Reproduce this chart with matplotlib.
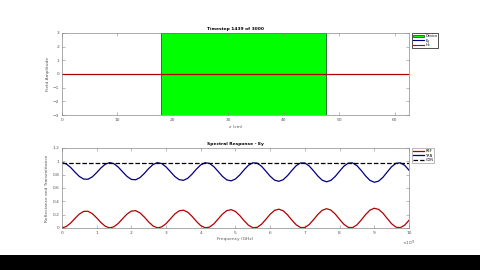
import numpy as np
import matplotlib
matplotlib.use("Agg")
import matplotlib.pyplot as plt
from matplotlib.patches import Rectangle

# top panel: field snapshot
z_pos = [0, 62.6]
ey_field = [0.0, 0.0]
hx_field = [0.0, 0.0]
device_start = 17.8
device_end = 47.7

# bottom panel: spectral response (frequency in units of 1e9)
freq = np.linspace(0, 10, 81)
ref = [0.000, 0.020, 0.072, 0.142, 0.207, 0.247, 0.250, 0.214, 0.151, 0.080,
       0.024, 0.000, 0.017, 0.068, 0.139, 0.207, 0.252, 0.258, 0.225, 0.162,
       0.089, 0.029, 0.001, 0.014, 0.064, 0.135, 0.207, 0.255, 0.266, 0.236,
       0.173, 0.098, 0.034, 0.002, 0.011, 0.059, 0.132, 0.206, 0.259, 0.274,
       0.246, 0.185, 0.108, 0.040, 0.003, 0.008, 0.054, 0.127, 0.204, 0.262,
       0.281, 0.257, 0.196, 0.118, 0.047, 0.005, 0.006, 0.050, 0.123, 0.202,
       0.264, 0.288, 0.267, 0.208, 0.129, 0.054, 0.008, 0.004, 0.045, 0.118,
       0.200, 0.266, 0.295, 0.278, 0.221, 0.140, 0.062, 0.011, 0.003, 0.040,
       0.113]
trn = [0.980, 0.960, 0.908, 0.838, 0.773, 0.733, 0.730, 0.766, 0.829, 0.900,
       0.956, 0.980, 0.963, 0.912, 0.841, 0.773, 0.728, 0.722, 0.755, 0.818,
       0.891, 0.951, 0.979, 0.966, 0.916, 0.845, 0.773, 0.725, 0.714, 0.744,
       0.807, 0.882, 0.946, 0.978, 0.969, 0.921, 0.848, 0.774, 0.721, 0.706,
       0.734, 0.795, 0.872, 0.940, 0.977, 0.972, 0.926, 0.853, 0.776, 0.718,
       0.699, 0.723, 0.784, 0.862, 0.933, 0.975, 0.974, 0.930, 0.857, 0.778,
       0.716, 0.692, 0.713, 0.772, 0.851, 0.926, 0.972, 0.976, 0.935, 0.862,
       0.780, 0.714, 0.685, 0.702, 0.759, 0.840, 0.918, 0.969, 0.977, 0.940,
       0.867]
con_freq = [0, 10]
con = [0.98, 0.98]

fs = 3.2
gray = '#555555'
red = '#b00000'
blue = '#000080'


def style_axes(ax):
    for s in ax.spines.values():
        s.set_color('#888888')
        s.set_linewidth(0.5)
    ax.tick_params(direction='in', length=2, width=0.4, colors='#888888',
                   labelsize=fs, labelcolor=gray, top=True, right=True, pad=2)


fig = plt.figure(figsize=(4.8, 2.7), dpi=100)

# top axes
ax1 = fig.add_axes([0.129, 0.574, 0.723, 0.304])
ax1.add_patch(Rectangle((device_start, -3), device_end - device_start, 6,
                        facecolor='#00ff00', edgecolor='black', linewidth=0.4,
                        label='Device'))
ax1.plot(z_pos, ey_field, color=blue, linewidth=0.8, label='Ey')
ax1.plot(z_pos, hx_field, color=red, linewidth=0.8, label='Hx')
ax1.set_xlim(0, 62.6)
ax1.set_ylim(-3, 3)
ax1.set_xticks([0, 10, 20, 30, 40, 50, 60])
ax1.set_yticks([-3, -2, -1, 0, 1, 2, 3])
ax1.set_title('Timestep 1439 of 3000', fontsize=fs, fontweight='bold', pad=2)
ax1.set_xlabel('z (cm)', fontsize=fs, color=gray, labelpad=2)
ax1.set_ylabel('Field Amplitude', fontsize=fs, color=gray, labelpad=2)
style_axes(ax1)
leg1 = ax1.legend(loc='upper left', bbox_to_anchor=(1.01, 1.0), fontsize=2.5,
                  frameon=True, handlelength=3, borderpad=0.3, labelspacing=0.2,
                  handletextpad=0.4, borderaxespad=0)
leg1.get_frame().set_edgecolor('black')
leg1.get_frame().set_linewidth(0.6)
leg1.get_frame().set_boxstyle('square', pad=0)

# bottom axes
ax2 = fig.add_axes([0.129, 0.156, 0.723, 0.296])
ax2.plot(freq, ref, color=red, linewidth=0.9, label='REF')
ax2.plot(freq, trn, color=blue, linewidth=0.9, label='TRN')
ax2.plot(con_freq, con, color='black', linewidth=0.9, linestyle='--', label='CON')
ax2.set_xlim(0, 10)
ax2.set_ylim(0, 1.2)
ax2.set_xticks(range(11))
ax2.set_yticks([0, 0.2, 0.4, 0.6, 0.8, 1.0, 1.2])
ax2.set_yticklabels(['0', '0.2', '0.4', '0.6', '0.8', '1', '1.2'])
ax2.set_title('Spectral Response - Ey', fontsize=fs, fontweight='bold', pad=2)
ax2.set_xlabel('Frequency (GHz)', fontsize=fs, color=gray, labelpad=2)
ax2.set_ylabel('Reflectance and Transmittance', fontsize=fs, color=gray, labelpad=2)
style_axes(ax2)
ax2.text(1.0, -0.13, r'$\times 10^9$', transform=ax2.transAxes, fontsize=fs,
         color=gray, ha='center', va='top')
leg2 = ax2.legend(loc='upper left', bbox_to_anchor=(1.01, 1.0), fontsize=2.5,
                  frameon=True, handlelength=3, borderpad=0.3, labelspacing=0.2,
                  handletextpad=0.4, borderaxespad=0)
leg2.get_frame().set_edgecolor('#888888')
leg2.get_frame().set_linewidth(0.5)
leg2.get_frame().set_boxstyle('square', pad=0)

# black strip at the bottom of the frame
fig.patches.append(Rectangle((0, 0), 1, 0.055, transform=fig.transFigure,
                             facecolor='black', edgecolor='none'))

fig.savefig('out.png', dpi=100, facecolor='white')
